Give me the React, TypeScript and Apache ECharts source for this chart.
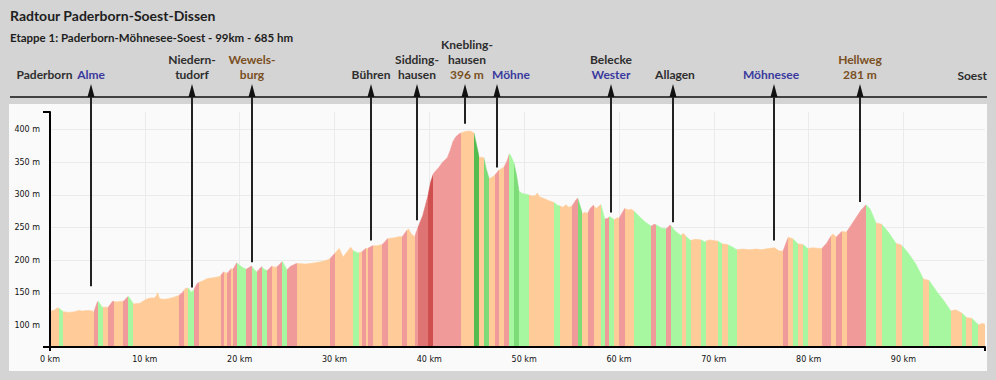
import React, { useEffect, useRef } from "react";
import * as echarts from "echarts";

// ---------- data ----------
const KM_MAX = 98.6;
const ELEV_MIN = 67;
const ELEV_MAX = 427;

const profileKm = [
  0.0, 0.4, 0.8, 1.0, 1.4, 2.0, 2.6, 3.0, 3.4, 4.0, 4.5, 4.6, 5.0, 5.1, 5.5, 6.0, 6.15, 6.6, 7.0, 7.6, 7.75, 8.2, 8.3, 8.8,
  9.5, 10.0, 10.5, 11.0, 11.2, 11.35, 11.55, 12.0, 12.5, 13.0, 13.6, 14.0, 14.3, 14.6, 14.9, 15.15, 15.5, 15.7, 16.2, 16.6,
  17.2, 17.9, 18.3, 18.7, 19.1, 19.3, 19.7, 20.0, 20.4, 20.7, 21.25, 21.5, 21.8, 22.3, 22.6, 22.9, 23.4, 23.7, 23.95, 24.5,
  25.0, 25.3, 25.7, 26.0, 27.0, 28.0, 29.0, 29.5, 30.0, 30.5, 30.9, 31.3, 31.7, 32.0, 32.5, 32.9, 33.3, 33.5, 34.0, 34.5,
  35.05, 35.6, 36.2, 36.8, 37.15, 37.6, 37.8, 38.1, 38.45, 38.8, 39.3, 39.85, 40.15, 40.45, 41.0, 41.4, 41.9, 42.2, 42.5,
  42.8, 43.1, 43.35, 43.8, 44.3, 44.7, 45.0, 45.25, 45.75, 46.0, 46.3, 46.6, 46.9, 47.35, 47.6, 47.9, 48.2, 48.45, 48.6,
  48.9, 49.2, 49.45, 49.8, 50.2, 50.5, 50.9, 51.2, 51.4, 51.6, 52.0, 52.5, 53.0, 53.2, 53.5, 53.8, 54.1, 54.4, 54.7, 55.05,
  55.5, 55.65, 56.15, 56.4, 56.7, 57.0, 57.3, 57.6, 57.9, 58.1, 58.5, 58.8, 59.0, 59.5, 59.8, 60.0, 60.6, 61.0, 61.3, 61.6,
  62.2, 62.8, 63.4, 63.7, 63.95, 64.5, 65.0, 65.4, 65.9, 66.5, 66.8, 67.1, 67.55, 68.0, 68.7, 69.0, 69.5, 70.0, 70.45,
  70.85, 71.4, 72.0, 72.4, 73.0, 73.8, 74.5, 75.0, 75.8, 76.4, 76.9, 77.3, 77.85, 78.1, 78.4, 78.85, 79.4, 79.9, 80.5, 81.0,
  81.4, 81.9, 82.4, 82.6, 82.9, 83.5, 84.0, 84.5, 85.0, 85.5, 86.05, 86.5, 87.1, 87.7, 88.4, 89.2, 89.8, 90.5, 91.3, 92.1,
  92.7, 93.5, 94.3, 95.0, 95.5, 96.15, 96.65, 97.2, 97.9, 98.3, 98.6,
];
const profileElev = [
  122, 123, 127, 126, 121, 120, 121, 123, 122, 123, 122, 120, 136, 137, 128, 128, 128, 137, 136, 137, 137, 144, 144, 133,
  134, 139, 142, 142, 145, 150, 141, 140, 141, 143, 146, 151, 157, 157, 151, 154, 164, 166, 169, 172,
  173, 175, 182, 180, 187, 186, 196, 192, 188, 186, 191, 186, 182, 190, 186, 184, 191, 189, 190, 198,
  185, 190, 193, 195, 194, 196, 199, 202, 210, 218, 205, 212, 220, 214, 211, 213, 218, 218, 222, 222,
  224, 233, 234, 236, 236, 245, 248, 240, 236, 250, 268, 298, 320, 333, 342, 350, 357, 368, 382,
  389, 393, 395, 397, 398, 395, 375, 358, 357, 340, 325, 327, 330, 338, 340, 343, 352, 363, 360,
  350, 330, 306, 302, 301, 300, 298, 299, 303, 297, 295, 292, 289, 288, 284, 283, 281, 285, 281, 283,
  293, 295, 271, 273, 272, 280, 284, 279, 283, 285, 263, 264, 267, 262, 265, 264, 279, 277, 278, 275,
  266, 258, 252, 255, 254, 249, 248, 254, 245, 238, 241, 236, 230, 232, 231, 228, 231, 230, 229,
  225, 224, 220, 216, 217, 216, 217, 216, 218, 219, 214, 214, 235, 234, 232, 225, 224, 218, 219, 218,
  218, 226, 238, 240, 235, 244, 243, 254, 265, 276, 285, 278, 257, 255, 243, 226, 223, 211, 194, 171,
  169, 152, 137, 122, 124, 119, 112, 111, 101, 103, 102,
];

// gradient class per stretch: F flat, U1..U3 climbing, D1..D3 descending
const segStart = [
  0.0, 0.9, 1.4, 4.6, 5.05, 5.6, 6.15, 6.7, 7.75, 8.25, 8.8, 13.65, 14.1, 14.6, 15.15, 15.7, 18.0, 18.35, 18.7, 19.1,
  19.3, 19.7, 20.7, 21.25, 21.8, 22.3, 22.9, 23.4, 23.95, 24.5, 25.0, 26.05, 29.5, 30.05, 32.0, 32.55, 32.9, 33.3, 33.5,
  34.05, 35.05, 35.6, 37.15, 37.65, 38.45, 38.8, 39.85, 40.4, 43.35, 44.7, 45.25, 45.75, 46.3, 46.9, 47.35, 47.9, 48.45,
  48.9, 49.45, 50.5, 53.2, 53.8, 55.05, 55.7, 56.15, 56.7, 57.35, 58.1, 58.5, 59.0, 59.5, 60.0, 60.6, 61.6, 63.4, 63.95,
  65.0, 65.45, 66.6, 67.1, 67.55, 68.7, 69.2, 70.45, 70.85, 71.45, 72.4, 77.3, 77.85, 78.4, 78.85, 79.4, 79.9, 81.4, 82.4,
  82.9, 83.5, 84.0, 86.05, 87.1, 87.7, 89.2, 89.8, 92.1, 92.7, 95.0, 96.15, 96.65, 97.2, 97.9,
];
const segClass = [
  "F", "D1", "F", "U1", "D1", "F", "U1", "F", "U1", "D1", "F", "U1", "F", "D1", "U1", "F", "U1", "F", "U1", "F",
  "U1", "D1", "U1", "D1", "U1", "D1", "U1", "F", "U1", "D1", "U1", "F", "U1", "F", "D1", "F", "U1", "F", "U1",
  "F", "U1", "F", "U1", "F", "U1", "U2", "U3", "U1", "F", "D3", "F", "D2", "F", "U1", "F", "U1", "D1",
  "D2", "D1", "F", "D1", "F", "U1", "D2", "F", "U1", "F", "D1", "U1", "D1", "F", "U1", "F", "D1", "U1", "D1",
  "U1", "D1", "F", "D1", "F", "D1", "F", "D1", "F", "D1", "F", "U1", "F", "D1", "F", "D1", "F", "U1", "F",
  "U1", "F", "U1", "D1", "F", "D1", "F", "D1", "F", "D1", "F", "D1", "F", "D1", "F",
];

// places marked above the profile
const placeKm = [4.36, 15.0, 21.25, 33.9, 38.7, 43.8, 47.1, 59.2, 65.7, 76.4, 85.4];
const placePinElev = [160, 158, 197, 230, 261, 409, 342, 273, 258, 230, 289];
const placeLines: [string, string][][] = [
  [["Alme", "water"]],
  [["Niedern-", "town"], ["tudorf", "town"]],
  [["Wewels-", "sight"], ["burg", "sight"]],
  [["Bühren", "town"]],
  [["Sidding-", "town"], ["hausen", "town"]],
  [["Knebling-", "town"], ["hausen", "town"], ["396 m", "sight"]],
  [["Möhne", "water"]],
  [["Belecke", "town"], ["Wester", "water"]],
  [["Allagen", "town"]],
  [["Möhnesee", "water"]],
  [["Hellweg", "sight"], ["281 m", "sight"]],
];
const startName = "Paderborn";
const endName = "Soest";
const titleText = "Radtour Paderborn-Soest-Dissen";
const subtitleText = "Etappe 1: Paderborn-Möhnesee-Soest - 99km - 685 hm";

// ---------- styles / layout ----------
const CLASS_COLORS: Record<string, string> = {
  F: "#ffcc99",
  U1: "#f19a9a",
  U2: "#df7474",
  U3: "#cf4e4e",
  D1: "#a6f7a0",
  D2: "#7ddc78",
  D3: "#52bd4e",
};
const KIND_COLORS: Record<string, string> = {
  town: "#2e2e2e",
  water: "#3a3a9e",
  sight: "#7a4f22",
};
const LABEL_DX: Record<number, number> = { 0: 0, 5: 2, 6: 14, 8: 2, 9: -3 };
const LABEL_FONT = "Lato";
const TOP_LINE_Y = 97;

export default function App() {
  const ref = useRef<HTMLDivElement>(null);
  useEffect(() => {
    if (!ref.current) return;
    const chart = echarts.init(ref.current, undefined, { renderer: "svg" });

    const pieces = segStart.map((s, i) => ({
      gte: s,
      lt: i < segStart.length - 1 ? segStart[i + 1] : KM_MAX + 5,
      color: CLASS_COLORS[segClass[i]],
    }));

    const profileData = profileKm.map((k, i) => [k, profileElev[i]]);
    const placeData = placeKm.map((k, i) => [k, placePinElev[i]]);

    const axisFont = { fontFamily: "DejaVu Sans", fontSize: 8, color: "#111" };

    const option: any = {
      animation: false,
      backgroundColor: "#d4d4d4",
      grid: { left: 50, right: 11, top: 112, bottom: 33, containLabel: false },
      graphic: [
        { type: "rect", z: -10, silent: true, shape: { x: 9, y: 104, width: 978, height: 267 }, style: { fill: "#fafafa" } },
        { type: "line", silent: true, shape: { x1: 10, y1: TOP_LINE_Y, x2: 987, y2: TOP_LINE_Y }, style: { stroke: "#111", lineWidth: 1.5 } },
        { type: "text", x: 10, y: 15, style: { text: titleText, fill: "#1e1e1e", fontFamily: LABEL_FONT, fontWeight: "bold", fontSize: 14, verticalAlign: "middle" } },
        { type: "text", x: 10, y: 37, style: { text: subtitleText, fill: "#1e1e1e", fontFamily: LABEL_FONT, fontWeight: "bold", fontSize: 11.5, verticalAlign: "middle" } },
        { type: "text", x: 44.5, y: 74, style: { text: startName, fill: KIND_COLORS.town, fontFamily: LABEL_FONT, fontWeight: "bold", fontSize: 12, align: "center", verticalAlign: "middle" } },
        { type: "text", x: 987, y: 75, style: { text: endName, fill: KIND_COLORS.town, fontFamily: LABEL_FONT, fontWeight: "bold", fontSize: 12, align: "right", verticalAlign: "middle" } },
      ],
      visualMap: [
        { type: "piecewise", show: false, dimension: 0, seriesIndex: 0, pieces, outOfRange: { color: CLASS_COLORS.F } },
      ],
      xAxis: [
        {
          type: "value",
          position: "bottom",
          min: 0,
          max: KM_MAX,
          interval: 10,
          axisLine: { show: false },
          axisTick: { show: false },
          axisLabel: { ...axisFont, formatter: "{value} km", margin: 8, showMaxLabel: false },
          splitLine: { show: true, showMinLine: false, showMaxLine: false, lineStyle: { color: "#ebebeb", width: 1 } },
        },
        {
          type: "value",
          position: "bottom",
          z: 3,
          min: 0,
          max: KM_MAX,
          interval: 10,
          axisLine: { show: true, onZero: false, lineStyle: { color: "#000", width: 2 } },
          axisTick: { show: true, customValues: [0, KM_MAX], length: 4, lineStyle: { color: "#000", width: 2 } },
          axisLabel: { show: false },
          splitLine: { show: false },
        },
      ],
      yAxis: [
        {
          type: "value",
          position: "left",
          min: ELEV_MIN,
          max: ELEV_MAX,
          splitNumber: 7,
          axisLine: { show: false },
          axisTick: { show: false },
          axisLabel: { ...axisFont, formatter: "{value} m", margin: 10, showMinLabel: false, showMaxLabel: false },
          splitLine: { show: true, showMinLine: false, showMaxLine: false, lineStyle: { color: "#ebebeb", width: 1 } },
        },
        {
          type: "value",
          position: "left",
          z: 3,
          min: ELEV_MIN,
          max: ELEV_MAX,
          splitNumber: 7,
          axisLine: { show: true, onZero: false, lineStyle: { color: "#000", width: 2 } },
          axisTick: { show: true, customValues: [ELEV_MIN, ELEV_MAX], length: 7, lineStyle: { color: "#000", width: 2 } },
          axisLabel: { show: false },
          splitLine: { show: false },
        },
      ],
      series: [
        {
          type: "line",
          data: profileData,
          showSymbol: false,
          smooth: false,
          lineStyle: { width: 0.6 },
          areaStyle: { opacity: 1 },
          z: 2,
        },
        {
          type: "custom",
          coordinateSystem: "cartesian2d",
          clip: false,
          z: 5,
          data: placeData,
          renderItem: (params: any, api: any) => {
            const i = params.dataIndex;
            const p = api.coord([api.value(0), api.value(1)]);
            const x = Math.round(p[0]);
            const children: any[] = [
              { type: "line", shape: { x1: x, y1: TOP_LINE_Y, x2: x, y2: p[1] }, style: { stroke: "#222", lineWidth: 2 } },
              { type: "polygon", shape: { points: [[x, 84], [x - 3.5, TOP_LINE_Y], [x + 3.5, TOP_LINE_Y]] }, style: { fill: "#111" } },
            ];
            const lines = placeLines[i];
            const dx = LABEL_DX[i] || 0;
            lines.forEach((ln, j) => {
              const y = 74 - (lines.length - 1 - j) * 15;
              children.push({
                type: "text",
                x: x + dx,
                y,
                style: {
                  text: ln[0],
                  fill: KIND_COLORS[ln[1]],
                  fontFamily: LABEL_FONT,
                  fontWeight: "bold",
                  fontSize: 12,
                  align: "center",
                  verticalAlign: "middle",
                },
              });
            });
            return { type: "group", children };
          },
        },
      ],
    };
    chart.setOption(option);
    return () => chart.dispose();
  }, []);
  return <div ref={ref} style={{ position: "absolute", left: 0, top: 0, width: 996, height: 380 }} />;
}
